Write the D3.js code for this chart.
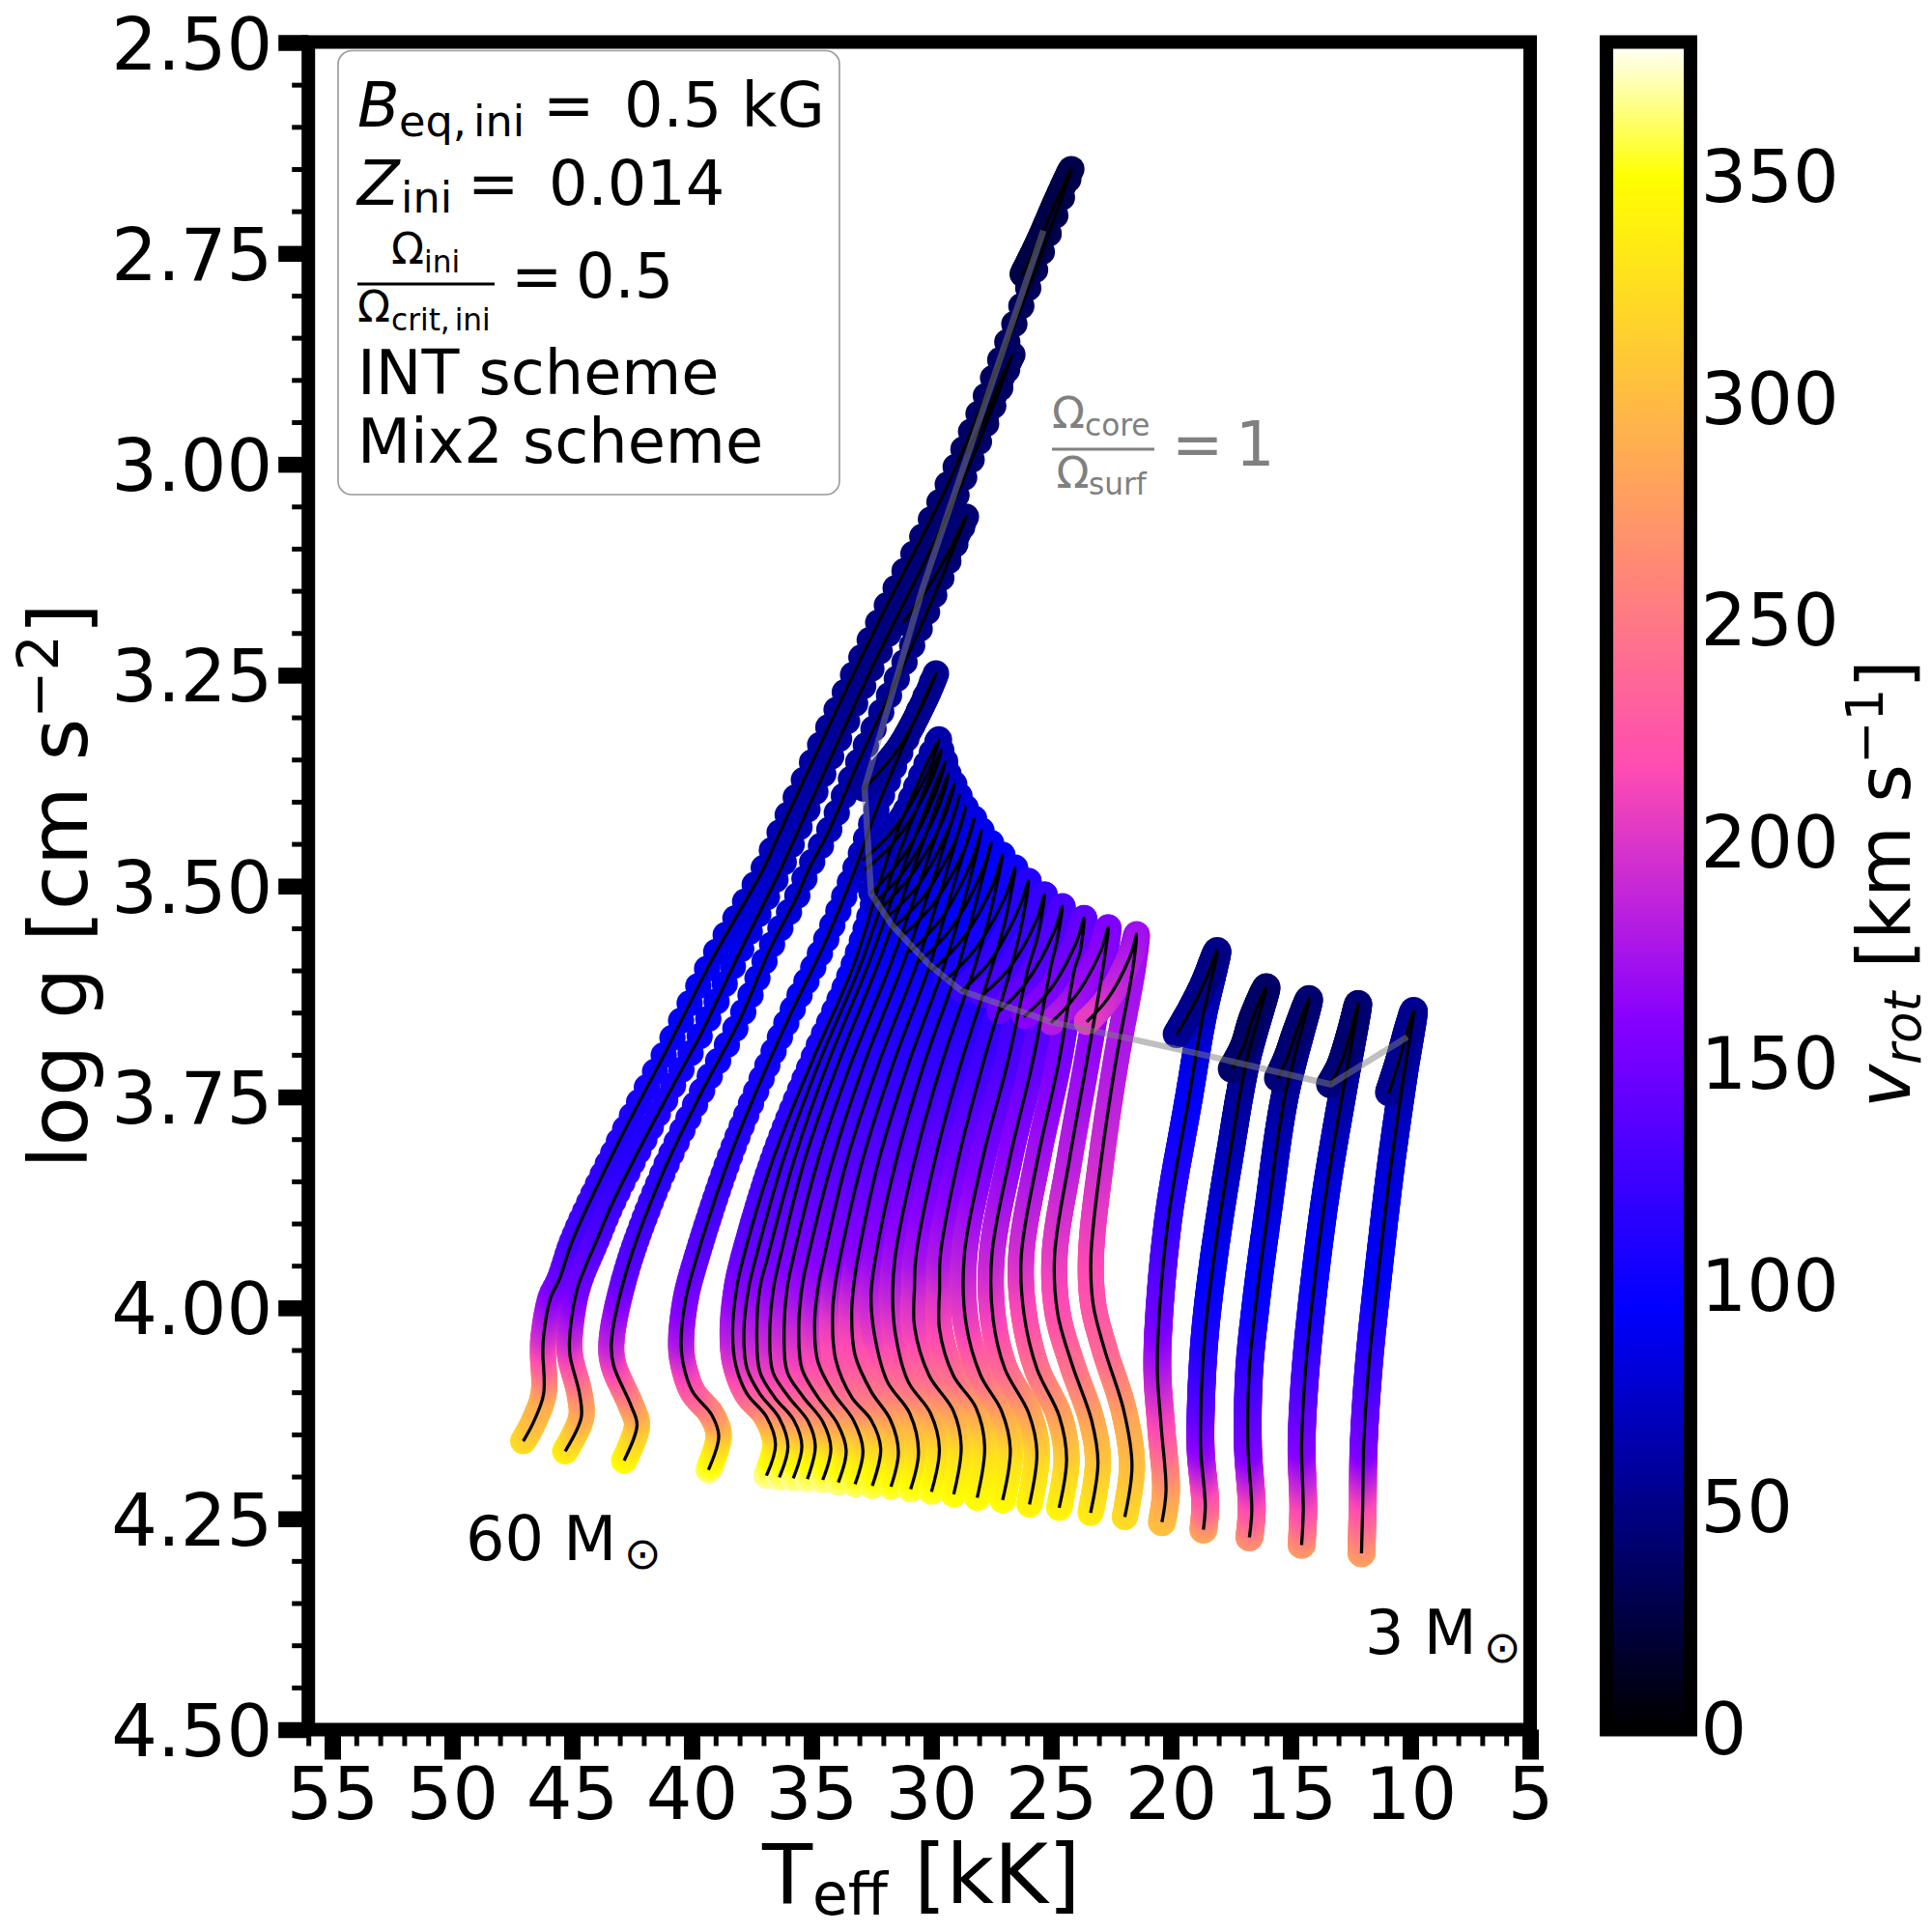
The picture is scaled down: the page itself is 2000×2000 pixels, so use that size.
<!DOCTYPE html>
<html><head><meta charset="utf-8">
<script src="https://cdnjs.cloudflare.com/ajax/libs/d3/7.8.5/d3.min.js"></script>
<style>html,body{margin:0;padding:0;background:#fff}svg{display:block}text{font-family:"DejaVu Sans",sans-serif;fill:#000}</style>
</head><body><svg id="c" width="2000" height="2000"></svg>
<script>
// ---- Data ----
const trackTeff = [
[47.03,46.61,46.18,46.21,46.18,45.89,45.52,44.96,43.06,41.05,39.15,37.02,36.29,32.46,29.23,26.41,24.15,24.72,25.52,26.21],
[45.28,44.61,44.68,45.08,45.08,44.76,43.95,43.39,42.46,40.64,39.56,37.94,36.29,35.56,32.46,28.95,26.61,27.14,27.82,28.55],
[42.82,42.28,42.53,43.26,43.35,42.74,41.25,39.64,38.02,36.69,35.60,35.12,34.27,33.06,30.28,28.55,29.15,30.04,31.17],
[39.30,38.87,39.16,39.97,40.37,40.44,40.24,39.77,38.55,37.54,35.93,34.52,33.18,32.05,29.80,30.28,31.37,32.86],
[36.88,36.50,36.88,37.69,38.16,38.29,38.12,37.82,36.61,35.00,33.26,31.57,29.68,30.08,31.49,32.86],
[36.34,35.98,36.34,37.15,37.69,37.82,37.62,37.30,36.17,34.68,32.98,31.29,29.58,30.00,31.41,32.78],
[35.76,35.40,35.74,36.54,37.15,37.28,37.15,36.81,35.72,34.31,32.66,31.05,29.42,29.84,31.21,32.54],
[35.17,34.84,35.13,35.94,36.61,36.74,36.58,36.29,35.28,33.87,32.26,30.76,29.28,29.68,31.05,32.38],
[34.53,34.19,34.53,35.33,36.01,36.14,36.01,35.74,34.72,33.34,31.73,30.36,29.04,29.43,30.81,32.10],
[33.88,33.55,33.92,34.73,35.40,35.53,35.40,35.13,34.11,32.78,31.21,29.92,28.82,29.23,30.56,31.89],
[33.18,32.85,33.25,34.06,34.73,34.87,34.73,34.46,33.51,32.18,30.64,29.52,28.57,28.95,30.28,31.57],
[32.46,32.11,32.51,33.32,33.99,34.12,33.99,33.79,32.86,31.57,30.08,29.11,28.21,28.59,29.96,31.25],
[31.68,31.37,31.70,32.51,33.18,33.32,33.18,33.05,32.18,30.93,29.47,28.55,27.90,28.31,29.60,30.89],
[30.86,30.53,30.90,31.84,32.38,32.51,32.31,31.45,30.28,28.87,28.14,27.50,27.90,29.19,30.48],
[29.99,29.66,30.03,30.97,31.50,31.61,31.50,30.68,29.55,28.18,27.54,27.03,27.42,28.71,30.00],
[29.06,28.75,29.08,30.09,30.70,30.70,30.63,29.84,28.75,27.46,26.93,26.50,26.89,28.18,29.43],
[28.08,27.77,28.14,29.08,29.65,29.65,29.62,28.87,27.82,26.65,26.25,25.94,26.33,27.54,28.75],
[27.02,26.70,27.07,27.94,28.55,28.62,27.86,26.81,25.93,25.56,25.27,25.60,26.73,27.86],
[25.90,25.59,25.93,26.93,27.41,27.47,26.73,25.77,25.00,24.76,24.52,24.88,26.05,27.18],
[24.66,24.35,24.65,25.59,26.13,26.24,25.56,24.68,23.99,23.79,23.62,23.95,25.04,26.13],
[23.35,23.04,23.31,24.11,24.72,24.85,24.23,23.51,22.82,22.61,22.94,23.99,25.00],
[21.92,21.62,21.96,22.77,23.24,23.33,22.90,22.30,21.57,21.42,21.69,22.62,23.51],
[20.37,20.20,20.40,20.56,20.48,20.08,19.27,18.67,18.06,18.59,19.15,19.76],
[18.64,18.56,18.75,18.75,18.59,18.18,17.54,16.85,16.01,16.57,16.97,17.46],
[16.72,16.62,16.78,16.73,16.45,15.93,15.24,14.23,14.77,15.12,15.53],
[14.54,14.47,14.54,14.43,14.11,13.51,12.82,12.18,12.55,12.95,13.36],
[12.04,11.99,11.95,11.74,11.34,10.81,10.28,9.86,10.08,10.48,10.91]
];
const trackLogg = [
[4.158,4.136,4.102,4.053,4.033,3.988,3.966,3.919,3.804,3.694,3.587,3.480,3.434,3.202,3.019,2.825,2.650,2.684,2.736,2.776],
[4.170,4.130,4.102,4.056,4.030,3.976,3.919,3.881,3.827,3.729,3.672,3.575,3.480,3.434,3.240,3.037,2.870,2.902,2.948,2.988],
[4.181,4.139,4.116,4.068,4.041,3.958,3.843,3.747,3.660,3.572,3.512,3.480,3.434,3.354,3.182,3.062,3.097,3.142,3.188],
[4.192,4.152,4.127,4.099,4.064,4.038,3.988,3.938,3.832,3.759,3.655,3.572,3.480,3.392,3.248,3.280,3.337,3.386],
[4.199,4.162,4.129,4.102,4.068,4.030,3.976,3.938,3.824,3.709,3.595,3.446,3.326,3.361,3.430,3.469],
[4.201,4.164,4.131,4.102,4.072,4.030,3.976,3.938,3.824,3.709,3.595,3.457,3.339,3.375,3.443,3.481],
[4.202,4.164,4.133,4.106,4.076,4.033,3.976,3.938,3.824,3.709,3.595,3.469,3.352,3.391,3.466,3.509],
[4.203,4.164,4.135,4.106,4.076,4.033,3.976,3.938,3.824,3.709,3.595,3.480,3.367,3.405,3.479,3.520],
[4.204,4.167,4.135,4.106,4.076,4.030,3.976,3.938,3.824,3.709,3.595,3.486,3.379,3.416,3.486,3.526],
[4.207,4.169,4.137,4.106,4.072,4.030,3.976,3.938,3.824,3.709,3.595,3.492,3.393,3.429,3.499,3.538],
[4.209,4.169,4.133,4.102,4.064,4.022,3.976,3.938,3.824,3.709,3.595,3.498,3.407,3.443,3.511,3.549],
[4.211,4.167,4.133,4.106,4.061,4.007,3.969,3.938,3.824,3.709,3.595,3.503,3.420,3.455,3.523,3.560],
[4.212,4.171,4.133,4.099,4.056,4.004,3.961,3.938,3.824,3.709,3.595,3.509,3.434,3.470,3.539,3.578],
[4.215,4.171,4.125,4.087,4.030,3.984,3.938,3.824,3.709,3.595,3.520,3.449,3.484,3.551,3.589],
[4.218,4.167,4.125,4.087,4.030,3.984,3.938,3.824,3.709,3.595,3.532,3.463,3.498,3.563,3.601],
[4.221,4.164,4.122,4.080,4.022,3.976,3.938,3.824,3.709,3.595,3.543,3.478,3.511,3.575,3.612],
[4.225,4.164,4.118,4.080,4.026,3.976,3.938,3.824,3.709,3.595,3.549,3.494,3.526,3.589,3.625],
[4.228,4.167,4.122,4.080,4.018,3.938,3.824,3.709,3.595,3.560,3.510,3.540,3.597,3.629],
[4.233,4.171,4.125,4.072,4.015,3.938,3.824,3.709,3.595,3.566,3.524,3.555,3.615,3.649],
[4.237,4.179,4.129,4.072,4.007,3.938,3.824,3.709,3.595,3.578,3.538,3.567,3.623,3.655],
[4.243,4.183,4.133,4.068,4.007,3.938,3.824,3.709,3.595,3.549,3.578,3.631,3.662],
[4.248,4.187,4.122,4.049,3.996,3.938,3.824,3.709,3.595,3.557,3.583,3.633,3.661],
[4.254,4.217,4.141,4.076,4.006,3.889,3.755,3.655,3.577,3.614,3.646,3.676],
[4.263,4.234,4.170,4.123,4.036,3.936,3.819,3.708,3.620,3.655,3.691,3.717],
[4.272,4.240,4.164,4.076,3.995,3.883,3.749,3.634,3.673,3.702,3.728],
[4.281,4.240,4.164,4.094,3.995,3.861,3.744,3.640,3.679,3.714,3.735],
[4.291,4.234,4.164,4.070,3.959,3.831,3.725,3.648,3.667,3.708,3.746]
];
const trackVrot = [
[325,305,287,218,198,165,148,130,112,100,88,72,66,50,42,34,28,28,27,26],
[340,295,270,215,190,150,135,125,115,105,98,88,72,66,50,42,37,37,37,38],
[350,310,280,215,190,140,115,105,97,88,78,74,68,60,48,42,43,44,46],
[362,318,275,235,205,180,155,140,118,108,97,90,78,65,53,54,56,58],
[368,335,290,245,210,185,160,145,122,108,95,75,63,64,66,68],
[368,335,290,245,212,187,162,147,124,109,96,77,65,66,68,70],
[368,335,290,248,215,190,165,150,126,110,97,79,67,68,70,72],
[368,335,292,250,215,192,167,152,128,111,98,81,70,71,73,75],
[366,335,292,252,217,195,170,155,130,112,99,83,73,74,76,78],
[365,335,295,253,220,198,172,157,132,113,100,85,77,78,80,82],
[362,332,295,255,222,200,174,159,134,114,100,87,81,82,84,86],
[360,330,295,255,225,205,180,162,136,115,100,89,85,86,88,90],
[358,328,295,255,225,205,180,165,138,116,101,91,89,90,92,94],
[358,328,292,250,210,190,168,140,118,102,95,92,93,95,97],
[356,328,292,250,212,192,172,143,120,104,98,95,96,98,100],
[352,328,290,248,212,195,175,146,122,107,103,102,103,105,108],
[350,328,290,250,218,200,180,150,127,112,112,112,114,118,122],
[350,326,290,250,212,185,155,133,120,120,120,122,126,131],
[345,322,290,245,215,190,165,143,130,130,130,133,138,145],
[345,318,288,250,220,198,175,155,143,142,140,145,152,160],
[338,312,290,248,222,207,185,168,157,155,160,168,180],
[325,305,285,240,225,215,195,180,172,170,176,190,205],
[305,285,222,185,150,120,97,75,50,50,52,55],
[285,240,170,142,110,92,72,52,38,38,38,40],
[270,230,155,125,100,85,60,42,42,43,45],
[275,225,160,135,105,85,62,42,42,43,45],
[280,225,155,125,95,82,65,54,54,54,55]
];
const scallop = [1,1,.95,.8,.65,.5,.5,.5,.5,.5,.5,.5,.4,.4,.4,.3,.3,.2,.2,.2,.2,.2,0,0,0,0,0];
const bandRadius = [13.6,13.6,13.6,13.6,13.6,13.6,13.6,13.6,13.6,13.6,13.6,13.6,13.6,13.6,13.6,13.6,13.6,13.6,13.6,13.6,13.6,13.6,14.5,14.5,14.5,14.5,14.5];
const coreTeff = [25.32,30.36,32.78,32.51,31.65,30.09,28.75,25.00,21.69,18.34,13.32,10.13];
const coreLogg = [2.723,3.147,3.384,3.509,3.546,3.593,3.624,3.661,3.681,3.702,3.735,3.679];
const xMajor = [55,50,45,40,35,30,25,20,15,10,5];
const xMinor = d3.range(6,57).filter(d=>d%5!==0);
const yMajor = [2.5,2.75,3,3.25,3.5,3.75,4,4.25,4.5];
const yMinor = d3.range(0,41).map(i=>2.5+i*0.05).filter((d,i)=>i%5!==0);
const cbTicks = [0,50,100,150,200,250,300,350];

// ---- Layout ----
const L=319.2,R=1584,T=43.5,B=1790.5,CL=1663,CR=1750,VMAX=380.5,F=75,FL=84,FX=85.4,FC=76,FT=63.7,SPINE=14;
const x=d3.scaleLinear().domain([56,5]).range([L,R]);
const y=d3.scaleLinear().domain([2.5,4.5]).range([44,1790.5]);
const gnuplot2=t=>{const c=v=>Math.max(0,Math.min(1,v))*255;
  const b=t<.25?4*t:(t<.92?-2*t+1.84:t/.08-11.5);
  return `rgb(${c(t/.32-.78125)|0},${c(2*t-.84)|0},${c(b)|0})`;};
const color=d3.scaleSequential(gnuplot2).domain([0,VMAX]);
const svg=d3.select('#c');
const gBand=svg.append('g'), gLine=svg.append('g');
const line=d3.line().curve(d3.curveCatmullRom.alpha(.5));
const stepByLogg=d3.scaleLinear().domain([3.71,3.824,3.938,4.05,4.2]).range([20,13,7,3,2]).clamp(true);

trackTeff.forEach((te,k)=>{
  const pts=te.map((t,i)=>[x(t),y(trackLogg[k][i])]);
  const d=line(pts);
  const p=gLine.append('path').attr('d',d).attr('fill','none').attr('stroke','#000').attr('stroke-width',3.3);
  const el=p.node(), total=el.getTotalLength();
  const cum=[0];
  for(let i=1;i<pts.length;i++)cum.push(cum[i-1]+Math.hypot(pts[i][0]-pts[i-1][0],pts[i][1]-pts[i-1][1]));
  const scale=total/cum[cum.length-1];
  const lens=cum.map(c=>c*scale);
  const vAt=d3.scaleLinear().domain(lens).range(trackVrot[k]);
  const iTop=d3.minIndex(trackLogg[k]);
  // locate the turning point on the drawn curve (smallest screen y)
  let turn=lens[iTop],best=Infinity;
  for(let u=Math.max(0,lens[iTop]-40);u<=Math.min(total,lens[iTop]+40);u+=.5){const q=el.getPointAtLength(u);if(q.y<best){best=q.y;turn=u;}}
  const g=gBand.append('g');
  let s=0;
  while(s<=total){
    const q=el.getPointAtLength(s);
    g.append('circle').attr('cx',q.x).attr('cy',q.y).attr('r',bandRadius[k]).attr('fill',color(vAt(s)));
    let st=s<turn?Math.max(2,stepByLogg(y.invert(q.y))*scallop[k]):2;
    if(s<turn&&s+st>turn)st=turn-s;
    s+=st;
  }
});

// core = surface line
svg.append('path').attr('d',d3.line()(coreTeff.map((t,i)=>[x(t),y(coreLogg[i])])))
  .attr('fill','none').attr('stroke','#808080').attr('stroke-opacity',.5).attr('stroke-width',6.5).attr('stroke-linejoin','round');

// axes
const style=(g,w)=>{g.select('.domain').remove();g.selectAll('.tick line').attr('stroke','#000').attr('stroke-width',w);};
const gx=svg.append('g').attr('transform',`translate(0,${B})`);
gx.append('g').call(d3.axisBottom(x).tickValues(xMinor).tickSize(17).tickFormat('')).call(style,5);
const gxM=gx.append('g').call(d3.axisBottom(x).tickValues(xMajor).tickSize(31)).call(style,17);
gxM.selectAll('text').attr('font-size',F).attr('y',92).attr('dy',0).attr('font-family','DejaVu Sans').attr('fill','#000');
const gy=svg.append('g').attr('transform',`translate(${L},0)`);
gy.append('g').call(d3.axisLeft(y).tickValues(yMinor).tickSize(17).tickFormat('')).call(style,5);
const gyM=gy.append('g').call(d3.axisLeft(y).tickValues(yMajor).tickSize(31).tickFormat(d3.format('.2f'))).call(style,16.5);
gyM.selectAll('text').attr('font-size',F).attr('x',-37).attr('dy',27).attr('font-family','DejaVu Sans').attr('fill','#000');
svg.append('rect').attr('x',L).attr('y',T).attr('width',R-L).attr('height',B-T).attr('fill','none').attr('stroke','#000').attr('stroke-width',SPINE).attr('stroke-linejoin','miter');

// colourbar
const cb=d3.scaleLinear().domain([0,VMAX]).range([B,T]);
const defs=svg.append('defs');
const grad=defs.append('linearGradient').attr('id','cbg').attr('x1',0).attr('x2',0).attr('y1',1).attr('y2',0);
d3.range(0,1.0001,1/256).forEach(t=>grad.append('stop').attr('offset',t).attr('stop-color',gnuplot2(t)));
svg.append('rect').attr('x',CL).attr('y',T).attr('width',CR-CL).attr('height',B-T).attr('fill','url(#cbg)');
svg.append('rect').attr('x',CL).attr('y',T).attr('width',CR-CL).attr('height',B-T).attr('fill','none').attr('stroke','#000').attr('stroke-width',SPINE);
const gc=svg.append('g').attr('transform',`translate(${CR},0)`).call(d3.axisRight(cb).tickValues(cbTicks).tickSize(0));
gc.select('.domain').remove();
gc.selectAll('text').attr('font-size',F).attr('x',10.5).attr('dy',25).attr('font-family','DejaVu Sans').attr('fill','#000');

// helpers
const txt=(s,xx,yy,fs,o={})=>svg.append('text').text(s).attr('x',xx).attr('y',yy).attr('font-size',fs)
  .attr('word-spacing',o.ws||null).attr('font-style',o.it?'italic':null).style('fill',o.c||'#000').attr('text-anchor',o.a||'start');

// legend box
svg.append('rect').attr('x',350).attr('y',52.5).attr('width',519).attr('height',459.5).attr('rx',14).attr('fill','#fff').attr('stroke','#999').attr('stroke-width',1.6);
txt('B',370,131,FT,{it:1}); txt('eq, ini',413,141,44.6,{ws:-7}); txt('=',562,131,FT); txt('0.5 kG',646,131,FT);
txt('Z',370,211.7,FT,{it:1}); txt('ini',415,220,44.6); txt('=',484,211.7,FT); txt('0.014',568,211.7,FT);
txt('Ω',405,273,44.6); txt('ini',439,281.7,31.2);
svg.append('rect').attr('x',370).attr('y',292.5).attr('width',142).attr('height',3);
txt('Ω',370,333,44.6); txt('crit, ini',405,341.7,31.2,{ws:-5});
txt('=',529,307.7,FT); txt('0.5',596,307.7,FT);
txt('INT scheme',370,407.7,FT); txt('Mix2 scheme',370,479,FT);

// mass labels
txt('60 M',482,1615,FT); txt('⊙',646,1624,46);
txt('3 M',1413,1712,FT); txt('⊙',1536,1721,46);

// gray annotation
const gr={c:'#808080'};
txt('Ω',1089,443,44.6,gr); txt('core',1123,451,31.2,gr);
svg.append('rect').attr('x',1089).attr('y',463.5).attr('width',106).attr('height',3).attr('fill','#808080');
txt('Ω',1093.6,504.6,44.6,gr); txt('surf',1127,512,31.2,gr);
txt('=',1213,482,FT,gr); txt('1',1279,482,FT,gr);

// axis titles
const xt=svg.append('text').attr('x',(L+R)/2+2).attr('y',1970).attr('text-anchor','middle').attr('font-size',FX);
xt.append('tspan').text('T');xt.append('tspan').text('eff').attr('font-size',FX*.7).attr('dy',12);xt.append('tspan').text(' [kK]').attr('dy',-12);
const yt=svg.append('text').attr('transform',`translate(90,917) rotate(-90)`).attr('text-anchor','middle').attr('font-size',FL);
yt.append('tspan').text('log g [cm s');yt.append('tspan').text('−2').attr('font-size',FL*.7).attr('dy',-30);yt.append('tspan').text(']').attr('dy',30);
const ct=svg.append('text').attr('transform',`translate(1977,915) rotate(-90)`).attr('text-anchor','middle').attr('font-size',FC);
ct.append('tspan').text('v').attr('font-style','italic');ct.append('tspan').text('rot').attr('font-style','italic').attr('font-size',FC*.7).attr('dy',11);
ct.append('tspan').text(' [km s').attr('dy',-11);ct.append('tspan').text('−1').attr('font-size',FC*.7).attr('dy',-28);ct.append('tspan').text(']').attr('dy',28);
</script></body></html>
